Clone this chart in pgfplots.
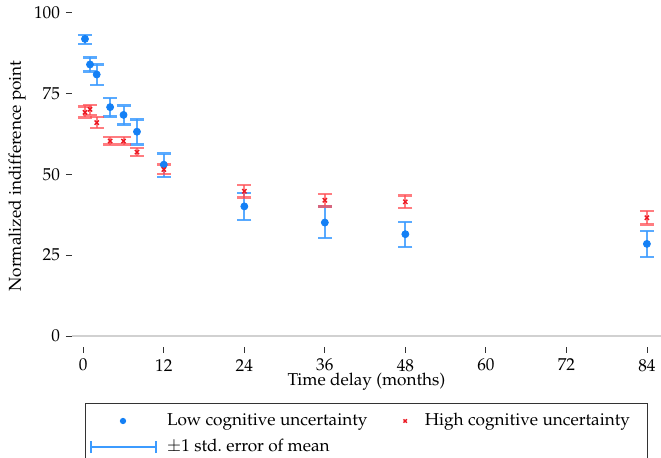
\documentclass[border=0pt]{standalone}
\usepackage[T1]{fontenc}
\usepackage{mathpazo}
\usepackage{pgfplots}
\pgfplotsset{compat=1.18}
\definecolor{bluept}{RGB}{20,128,245}
\definecolor{blueerr}{RGB}{60,155,255}
\definecolor{redpt}{RGB}{235,25,35}
\definecolor{rederr}{RGB}{255,80,85}
\pgfplotsset{
  lowimg/.style={legend image code/.code={\draw[mark repeat=2,mark phase=2,##1,mark size=1.3pt] plot coordinates {(0pt,0pt)(16.25pt,0pt)(32.5pt,0pt)}; \path (36pt,0pt);}},
  highimg/.style={legend image code/.code={\draw[mark repeat=2,mark phase=2,##1,mark size=1.2pt] plot coordinates {(0pt,0pt)(2.5pt,0pt)(5pt,0pt)}; \path (10pt,0pt);}},
}
\begin{document}
\fontsize{8.6}{10.3}\selectfont
\begin{tikzpicture}
\begin{axis}[
  at={(36pt,-173.5pt)}, anchor=south west,
  scale only axis, width=294.5pt, height=171pt,
  xmin=-1.684, xmax=86.1, ymin=-3.40, ymax=102.4,
  axis line style={draw=none},
  xtick={0,12,...,84}, ytick={0,25,50,75,100},
  tick align=outside, major tick length=3pt,
  xtick pos=lower, ytick pos=left,
  tick style={black!80, line width=0.4pt},
  extra y ticks={0}, extra y tick labels={},
  extra y tick style={grid=major, major grid style={black!18, line width=0.7pt}},
  xlabel={Time delay (months)}, ylabel={Normalized indifference point},
  xlabel style={at={(axis description cs:0.5,-0.1023)}, anchor=center},
  ylabel style={at={(axis description cs:-0.0934,0.5)}, anchor=center},
  legend columns=2,
  legend cell align=left,
  legend style={at={(axis description cs:0.0221,-0.1637)}, anchor=north west,
    draw=black!80, line width=0.5pt, inner xsep=2pt, inner ysep=3pt,
    row sep=1.5pt,
    /tikz/every even column/.append style={column sep=16pt}},
]
\addplot[only marks, mark=*, mark size=1.75pt, color=bluept, lowimg,
  error bars/.cd, y dir=both, y explicit,
  error bar style={blueerr, line width=1pt, opacity=.85},
  error mark options={blueerr, line width=1.2pt, mark size=3.5pt, opacity=.85, rotate=90}]
coordinates {
(0.25,91.9) += (0,1.3) -= (0,1.6)
(1,84.0) += (0,2.2) -= (0,2.2)
(2,80.9) += (0,3.1) -= (0,3.2)
(4,70.8) += (0,2.9) -= (0,2.9)
(6,68.4) += (0,2.9) -= (0,3.0)
(8,63.2) += (0,3.8) -= (0,3.9)
(12,53.0) += (0,3.4) -= (0,3.8)
(24,40.1) += (0,4.1) -= (0,4.3)
(36,35.1) += (0,5.0) -= (0,4.8)
(48,31.5) += (0,3.8) -= (0,3.9)
(84,28.5) += (0,4.0) -= (0,4.0)
};
\addlegendentry{Low cognitive uncertainty}
\addplot[only marks, mark=x, mark size=1.5pt, color=redpt, line width=0.7pt, highimg,
  error bars/.cd, y dir=both, y explicit,
  error bar style={rederr, line width=1pt, opacity=.75},
  error mark options={rederr, line width=1.2pt, mark size=3.5pt, opacity=.75, rotate=90}]
coordinates {
(0.25,69.2) += (0,1.8) -= (0,1.6)
(1,70.1) += (0,1.4) -= (0,1.8)
(2,66.0) += (0,1.7) -= (0,1.7)
(4,60.3) += (0,1.2) -= (0,1.1)
(6,60.3) += (0,1.2) -= (0,1.1)
(8,56.9) += (0,1.3) -= (0,1.3)
(12,51.5) += (0,1.6) -= (0,1.3)
(24,44.8) += (0,2.0) -= (0,2.0)
(36,42.0) += (0,2.0) -= (0,1.9)
(48,41.5) += (0,2.0) -= (0,1.9)
(84,36.6) += (0,2.1) -= (0,2.1)
};
\addlegendentry{High cognitive uncertainty\hspace*{5pt}}
\addlegendimage{legend image code/.code={
  \draw[blueerr, line width=1pt] (0pt,0pt) -- (32.5pt,0pt);
  \draw[blueerr, line width=1pt] (0pt,-3pt) -- (0pt,3pt) (32.5pt,-3pt) -- (32.5pt,3pt);
  \path (36pt,0pt);}}
\addlegendentry{$\pm$1 std.\ error of mean\rule[-8pt]{0pt}{0pt}}
\end{axis}
\pgfresetboundingbox
\path[use as bounding box] (0,0) rectangle (330.5pt,-229pt);
\end{tikzpicture}
\end{document}
